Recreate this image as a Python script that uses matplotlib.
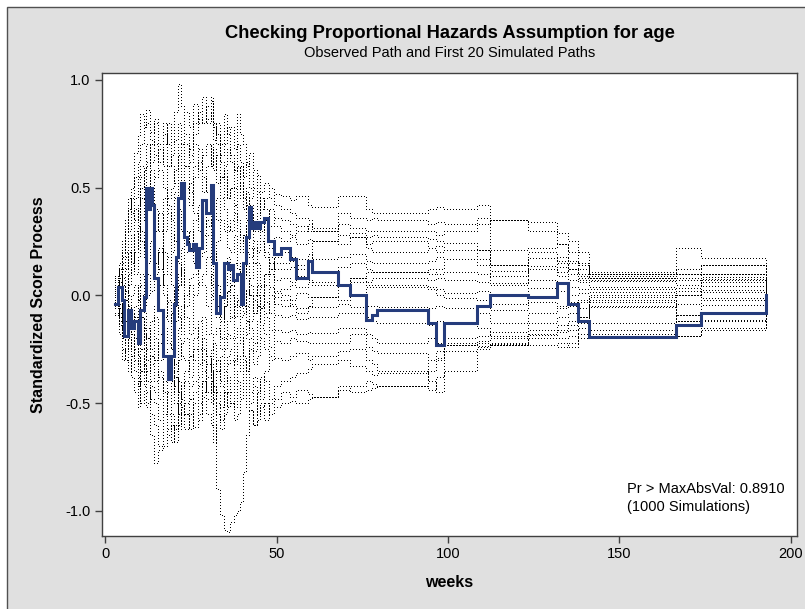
import matplotlib
matplotlib.use("Agg")
import matplotlib.pyplot as plt
from matplotlib.patches import Rectangle

plt.rcParams['font.family'] = ['Liberation Sans', 'DejaVu Sans']

# ---------------- data ----------------
# Observed path (event times in weeks, standardized score process value from that time on)
obs_weeks = [2.9, 3.8, 5.0, 5.5, 6.7, 7.6, 8.5, 9.6, 10.2, 11.4, 12.0, 12.5, 13.1, 13.7,
             14.3, 15.5, 16.9, 18.4, 19.2, 20.1, 20.7, 21.3, 22.2, 23.0, 23.9, 24.5, 25.7,
             26.5, 27.4, 28.3, 29.4, 30.9, 31.5, 32.4, 33.5, 34.7, 35.9, 36.4, 37.3, 38.5,
             39.7, 40.2, 41.1, 42.0, 42.6, 43.4, 44.3, 45.2, 46.4, 47.5, 49.3, 51.3, 53.9,
             55.7, 59.2, 60.3, 67.9, 71.4, 76.1, 77.8, 79.3, 94.2, 96.5, 98.8, 108.5, 112.2,
             123.3, 131.8, 135.0, 137.9, 141.1, 166.5, 173.8, 192.7]
obs_values = [-0.04, 0.04, -0.02, -0.19, -0.07, -0.15, -0.12, -0.22, -0.07, -0.01, 0.50, 0.40,
              0.50, 0.42, 0.08, -0.07, -0.28, -0.39, -0.28, -0.04, 0.18, 0.45, 0.52, 0.27,
              0.24, 0.21, 0.24, 0.13, 0.22, 0.44, 0.38, 0.51, 0.15, -0.08, -0.01, 0.15, 0.12,
              0.14, 0.07, 0.10, -0.04, 0.15, 0.27, 0.41, 0.31, 0.34, 0.31, 0.34, 0.36, 0.25,
              0.19, 0.22, 0.17, 0.08, 0.16, 0.11, 0.05, 0.00, -0.115, -0.09, -0.07, -0.13,
              -0.23, -0.13, -0.05, 0.00, -0.01, 0.055, -0.04, -0.12, -0.195, -0.14, -0.08, 0.00]

# Common jump times for the simulated paths (45 early + 23 late)
sim_weeks = [2.9, 4.0, 5.0, 5.8, 6.7, 7.6, 8.5, 9.6, 10.2, 11.4, 12.0, 13.1, 14.3, 15.5, 16.9,
             18.0, 19.2, 20.1, 21.3, 22.2, 23.0, 24.5, 25.7, 27.0, 28.3, 29.5, 30.9, 31.6, 32.4,
             33.5, 34.7, 35.5, 36.4, 37.5, 38.5, 39.3, 40.2, 41.1, 42.0, 43.2, 44.3, 45.3, 46.4,
             47.8, 49.3,
             51.3, 53.9, 55.7, 59.2, 60.3, 67.9, 71.4, 76.1, 77.8, 79.3, 94.2, 96.5, 98.8,
             108.5, 112.2, 123.3, 131.8, 135.0, 137.9, 141.1, 166.5, 173.8, 192.7]

sim01 = [0.05, -0.02, 0.15, 0.25, 0.30, 0.38, 0.45, 0.55, 0.60, 0.52, 0.70, 0.62, 0.82, 0.70, 0.75, 0.60, 0.65, 0.72, 0.80, 0.70, 0.85, 0.78, 0.89, 0.80, 0.92, 0.82, 0.85, 0.72, 0.80, 0.70, 0.84, 0.75, 0.78, 0.68, 0.84, 0.75, 0.70, 0.60, 0.66, 0.58, 0.56, 0.48, 0.52, 0.45, 0.47,
         0.46, 0.44, 0.46, 0.42, 0.41, 0.46, 0.46, 0.40, 0.38, 0.38, 0.40, 0.41, 0.40, 0.42, 0.35, 0.34, 0.29, 0.25, 0.20, 0.106, 0.22, 0.175, 0.0]
sim02 = [0.08, 0.12, 0.20, 0.30, 0.40, 0.50, 0.66, 0.74, 0.84, 0.78, 0.86, 0.76, 0.80, 0.62, 0.70, 0.80, 0.71, 0.85, 0.98, 0.88, 0.75, 0.65, 0.70, 0.58, 0.65, 0.70, 0.60, 0.68, 0.52, 0.62, 0.55, 0.45, 0.50, 0.58, 0.45, 0.52, 0.40, 0.48, 0.42, 0.34, 0.38, 0.45, 0.40, 0.32, 0.36,
         0.35, 0.33, 0.30, 0.33, 0.31, 0.38, 0.36, 0.35, 0.36, 0.35, 0.33, 0.34, 0.33, 0.36, 0.21, 0.22, 0.24, 0.16, 0.12, 0.10, 0.12, 0.14, 0.0]
sim03 = [-0.02, 0.06, 0.10, 0.18, 0.25, 0.15, 0.40, 0.30, 0.55, 0.45, 0.62, 0.50, 0.55, 0.68, 0.60, 0.45, 0.50, 0.58, 0.65, 0.55, 0.70, 0.62, 0.80, 0.85, 0.92, 0.80, 0.92, 0.78, 0.70, 0.62, 0.60, 0.68, 0.62, 0.50, 0.55, 0.60, 0.50, 0.42, 0.45, 0.50, 0.40, 0.30, 0.35, 0.40, 0.32,
         0.30, 0.28, 0.32, 0.30, 0.30, 0.28, 0.29, 0.27, 0.28, 0.27, 0.26, 0.25, 0.245, 0.21, 0.14, 0.20, 0.18, 0.15, 0.14, 0.09, 0.10, 0.10, 0.0]
sim04 = [0.03, 0.10, -0.05, 0.02, 0.10, 0.20, 0.30, 0.22, 0.45, 0.35, 0.50, 0.58, 0.40, 0.30, 0.45, 0.38, 0.35, 0.45, 0.55, 0.45, 0.60, 0.48, 0.55, 0.62, 0.48, 0.60, 0.70, 0.58, 0.65, 0.55, 0.58, 0.45, 0.50, 0.42, 0.60, 0.50, 0.45, 0.35, 0.38, 0.30, 0.30, 0.36, 0.28, 0.22, 0.27,
         0.25, 0.27, 0.24, 0.26, 0.25, 0.24, 0.27, 0.22, 0.20, 0.20, 0.22, 0.23, 0.21, 0.17, 0.115, 0.175, 0.13, 0.10, 0.09, 0.07, 0.07, 0.085, 0.0]
sim05 = [-0.05, -0.12, 0.05, 0.12, 0.20, 0.28, 0.10, 0.18, 0.30, 0.22, 0.40, 0.48, 0.30, 0.38, 0.20, 0.10, 0.35, 0.25, 0.40, 0.30, 0.45, 0.52, 0.38, 0.30, 0.40, 0.32, 0.50, 0.40, 0.45, 0.55, 0.40, 0.30, 0.35, 0.42, 0.30, 0.20, 0.28, 0.35, 0.22, 0.15, 0.25, 0.30, 0.20, 0.12, 0.18,
         0.20, 0.18, 0.17, 0.19, 0.17, 0.18, 0.19, 0.16, 0.15, 0.15, 0.16, 0.18, 0.17, 0.14, 0.09, 0.134, 0.11, 0.12, 0.08, 0.08, 0.05, 0.07, 0.0]
sim06 = [0.02, -0.04, -0.10, -0.02, 0.05, 0.12, 0.20, 0.32, 0.25, 0.18, 0.10, 0.02, 0.20, 0.12, 0.30, 0.40, 0.20, 0.28, 0.15, 0.05, 0.30, 0.22, 0.35, 0.42, 0.28, 0.35, 0.20, 0.12, 0.25, 0.35, 0.30, 0.22, 0.20, 0.28, 0.15, 0.05, 0.10, 0.20, 0.18, 0.25, 0.15, 0.05, 0.10, 0.18, 0.12,
         0.12, 0.13, 0.12, 0.14, 0.115, 0.13, 0.15, 0.12, 0.11, 0.11, 0.12, 0.10, 0.106, 0.10, 0.056, 0.12, 0.09, 0.07, 0.06, 0.037, 0.035, 0.06, 0.0]
sim07 = [0.06, 0.02, 0.12, 0.20, 0.00, -0.08, -0.10, -0.20, 0.05, -0.05, 0.15, 0.25, 0.10, 0.20, 0.00, -0.12, -0.08, 0.02, 0.10, 0.22, 0.20, 0.30, 0.15, 0.05, 0.05, -0.05, 0.10, 0.20, 0.00, -0.10, -0.05, 0.02, 0.05, 0.15, 0.12, 0.02, 0.08, 0.15, 0.00, -0.08, 0.05, 0.00, 0.10, 0.15, 0.07,
         0.08, 0.06, 0.09, 0.07, 0.06, 0.05, 0.08, 0.06, 0.08, 0.08, 0.07, 0.08, 0.07, 0.06, 0.046, 0.07, 0.06, 0.04, 0.03, 0.03, 0.02, 0.075, 0.0]
sim08 = [-0.03, 0.02, -0.08, -0.15, -0.20, -0.28, -0.10, -0.02, 0.00, -0.08, -0.15, -0.25, -0.05, 0.05, 0.10, 0.18, 0.05, -0.05, -0.10, -0.18, 0.00, 0.08, 0.10, 0.18, 0.20, 0.28, 0.15, 0.05, 0.05, -0.05, 0.10, 0.18, 0.00, -0.10, -0.05, 0.05, 0.03, -0.05, 0.08, 0.15, 0.00, -0.06, 0.05, 0.10, 0.02,
         0.03, 0.05, 0.04, 0.06, 0.05, 0.05, 0.06, 0.05, 0.05, 0.05, 0.04, 0.03, 0.01, 0.02, -0.04, 0.032, 0.02, 0.00, 0.01, 0.014, 0.00, 0.015, 0.0]
sim09 = [0.00, -0.06, 0.05, -0.02, -0.10, -0.18, -0.25, -0.32, -0.15, -0.22, -0.30, -0.40, -0.20, -0.30, -0.10, -0.02, -0.25, -0.35, -0.15, -0.05, -0.05, 0.05, -0.15, -0.25, -0.10, -0.18, 0.00, 0.08, -0.10, -0.20, -0.05, 0.02, 0.05, -0.05, -0.02, -0.10, -0.08, 0.02, 0.00, -0.08, -0.05, 0.04, -0.03, -0.08, 0.01,
         0.00, -0.02, 0.01, -0.01, -0.01, -0.02, 0.00, 0.04, 0.04, 0.04, 0.03, 0.00, -0.014, -0.02, -0.07, -0.03, -0.05, -0.03, -0.02, 0.00, -0.04, 0.025, 0.0]
sim10 = [-0.06, -0.10, -0.15, -0.22, -0.25, -0.18, -0.35, -0.42, -0.25, -0.32, -0.40, -0.48, -0.50, -0.58, -0.40, -0.30, -0.30, -0.38, -0.45, -0.52, -0.35, -0.28, -0.20, -0.12, -0.30, -0.38, -0.25, -0.18, -0.15, -0.25, -0.20, -0.12, -0.10, -0.20, -0.15, -0.05, -0.08, -0.18, -0.12, -0.02, -0.05, -0.14, -0.08, 0.00, -0.04,
         -0.05, -0.04, -0.06, -0.05, -0.055, -0.04, -0.055, -0.05, -0.05, -0.055, -0.06, -0.05, -0.06, -0.08, -0.13, -0.08, -0.06, -0.05, -0.03, -0.01, 0.00, -0.014, 0.0]
sim11 = [0.04, 0.00, -0.05, -0.12, -0.15, -0.22, -0.30, -0.38, -0.40, -0.32, -0.50, -0.42, -0.45, -0.35, -0.55, -0.65, -0.45, -0.38, -0.55, -0.48, -0.62, -0.55, -0.50, -0.58, -0.40, -0.48, -0.30, -0.22, -0.35, -0.42, -0.25, -0.18, -0.20, -0.30, -0.28, -0.35, -0.20, -0.12, -0.15, -0.22, -0.12, -0.05, -0.10, -0.16, -0.09,
         -0.10, -0.09, -0.11, -0.10, -0.10, -0.08, -0.08, -0.10, -0.12, -0.13, -0.14, -0.12, -0.13, -0.15, -0.19, -0.13, -0.10, -0.08, -0.06, -0.02, -0.09, -0.046, 0.0]
sim12 = [-0.08, -0.14, -0.20, -0.26, -0.30, -0.38, -0.45, -0.40, -0.50, -0.44, -0.52, -0.65, -0.78, -0.72, -0.70, -0.62, -0.60, -0.68, -0.50, -0.42, -0.40, -0.48, -0.45, -0.38, -0.35, -0.45, -0.40, -0.32, -0.30, -0.40, -0.35, -0.28, -0.25, -0.32, -0.22, -0.15, -0.28, -0.35, -0.20, -0.26, -0.22, -0.15, -0.18, -0.24, -0.16,
         -0.17, -0.16, -0.18, -0.17, -0.175, -0.15, -0.15, -0.18, -0.20, -0.22, -0.20, -0.22, -0.23, -0.22, -0.23, -0.185, -0.16, -0.14, -0.10, -0.03, -0.12, -0.115, 0.0]
sim13 = [-0.04, -0.08, -0.12, -0.05, -0.20, -0.28, -0.10, -0.18, -0.25, -0.15, -0.35, -0.28, -0.30, -0.38, -0.45, -0.55, -0.68, -0.60, -0.60, -0.52, -0.55, -0.48, -0.61, -0.55, -0.45, -0.38, -0.35, -0.45, -0.45, -0.52, -0.40, -0.32, -0.30, -0.42, -0.35, -0.28, -0.30, -0.38, -0.25, -0.32, -0.28, -0.20, -0.25, -0.30, -0.21,
         -0.22, -0.20, -0.21, -0.22, -0.22, -0.22, -0.18, -0.24, -0.26, -0.27, -0.30, -0.29, -0.26, -0.24, -0.23, -0.23, -0.24, -0.22, -0.18, -0.05, -0.19, -0.15, 0.0]
sim14 = [0.01, 0.06, 0.08, 0.02, -0.05, -0.12, -0.20, -0.28, -0.35, -0.42, -0.25, -0.32, -0.40, -0.48, -0.55, -0.45, -0.40, -0.50, -0.62, -0.55, -0.50, -0.42, -0.40, -0.50, -0.47, -0.55, -0.60, -0.68, -0.50, -0.58, -0.55, -0.45, -0.45, -0.52, -0.40, -0.48, -0.35, -0.42, -0.45, -0.38, -0.40, -0.48, -0.35, -0.28, -0.29,
         -0.30, -0.28, -0.27, -0.30, -0.28, -0.26, -0.25, -0.30, -0.32, -0.35, -0.40, -0.45, -0.35, -0.25, -0.22, -0.20, -0.20, -0.19, -0.15, -0.055, -0.04, -0.02, 0.0]
sim15 = [-0.02, -0.10, -0.25, -0.30, -0.35, -0.28, -0.20, -0.12, -0.10, -0.18, -0.20, -0.28, -0.30, -0.22, -0.15, -0.22, -0.25, -0.32, -0.20, -0.28, -0.30, -0.38, -0.25, -0.32, -0.20, -0.28, -0.35, -0.60, -0.90, -1.02, -1.09, -1.10, -1.05, -1.02, -1.00, -0.96, -0.82, -0.65, -0.53, -0.60, -0.58, -0.52, -0.50, -0.55, -0.48,
         -0.45, -0.47, -0.44, -0.46, -0.47, -0.42, -0.45, -0.44, -0.43, -0.42, -0.44, -0.38, -0.22, -0.21, -0.20, -0.18, -0.17, -0.16, -0.13, -0.13, -0.09, -0.12, 0.0]
sim16 = [0.00, -0.05, -0.10, -0.18, -0.30, -0.38, -0.45, -0.52, -0.35, -0.28, -0.45, -0.55, -0.60, -0.70, -0.45, -0.38, -0.55, -0.62, -0.40, -0.48, -0.55, -0.62, -0.50, -0.42, -0.40, -0.32, -0.50, -0.42, -0.55, -0.62, -0.45, -0.38, -0.50, -0.58, -0.55, -0.48, -0.45, -0.52, -0.50, -0.42, -0.55, -0.50, -0.58, -0.50, -0.52,
         -0.50, -0.49, -0.50, -0.48, -0.47, -0.44, -0.42, -0.40, -0.41, -0.42, -0.35, -0.30, -0.23, -0.235, -0.225, -0.23, -0.22, -0.24, -0.20, -0.16, -0.12, -0.16, 0.0]
sim17 = [0.07, 0.12, 0.00, -0.06, -0.10, 0.00, 0.05, -0.02, -0.10, -0.18, -0.20, -0.12, -0.10, -0.18, -0.25, -0.32, -0.35, -0.42, -0.30, -0.22, -0.20, -0.28, -0.30, -0.38, -0.25, -0.32, -0.40, -0.48, -0.35, -0.28, -0.45, -0.52, -0.50, -0.42, -0.40, -0.48, -0.45, -0.38, -0.53, -0.60, -0.45, -0.38, -0.40, -0.48, -0.42,
         -0.40, -0.38, -0.36, -0.34, -0.32, -0.30, -0.33, -0.35, -0.37, -0.36, -0.30, -0.26, -0.20, -0.19, -0.17, -0.16, -0.14, -0.12, -0.10, -0.18, -0.19, -0.16, 0.0]
sim18 = [-0.01, 0.08, 0.18, 0.28, 0.35, 0.45, 0.55, 0.62, 0.70, 0.78, 0.80, 0.72, 0.70, 0.62, 0.80, 0.70, 0.60, 0.52, 0.70, 0.62, 0.60, 0.68, 0.75, 0.82, 0.80, 0.88, 0.90, 0.80, 0.75, 0.65, 0.70, 0.78, 0.65, 0.58, 0.70, 0.62, 0.55, 0.62, 0.50, 0.58, 0.48, 0.40, 0.45, 0.50, 0.42,
         0.40, 0.38, 0.36, 0.35, 0.30, 0.33, 0.31, 0.30, 0.30, 0.30, 0.30, 0.28, 0.30, 0.33, 0.35, 0.30, 0.24, 0.20, 0.15, 0.10, 0.10, 0.14, 0.0]
sim19 = [0.09, 0.15, 0.25, 0.35, 0.45, 0.38, 0.35, 0.42, 0.50, 0.58, 0.60, 0.70, 0.65, 0.58, 0.50, 0.42, 0.40, 0.48, 0.55, 0.62, 0.50, 0.42, 0.60, 0.68, 0.55, 0.48, 0.45, 0.38, 0.35, 0.45, 0.40, 0.32, 0.30, 0.38, 0.35, 0.28, 0.25, 0.32, 0.30, 0.22, 0.20, 0.25, 0.18, 0.12, 0.15,
         0.15, 0.16, 0.14, 0.16, 0.25, 0.28, 0.27, 0.24, 0.25, 0.25, 0.22, 0.20, 0.21, 0.14, 0.09, 0.20, 0.16, 0.12, 0.10, 0.08, 0.08, 0.10, 0.0]
sim20 = [-0.09, -0.18, -0.30, -0.25, -0.20, -0.12, -0.05, 0.04, 0.10, 0.02, 0.00, 0.08, 0.15, 0.22, 0.05, -0.03, -0.05, -0.12, 0.05, 0.12, -0.10, -0.18, 0.00, 0.06, 0.10, 0.18, 0.05, -0.02, -0.05, -0.12, 0.05, 0.12, -0.10, -0.04, 0.00, 0.06, -0.05, -0.12, 0.05, 0.00, 0.00, -0.06, -0.03, 0.04, -0.01,
         -0.02, -0.05, -0.08, -0.05, -0.01, 0.05, 0.08, 0.11, 0.11, 0.11, 0.10, 0.12, 0.17, 0.21, 0.14, 0.175, 0.15, 0.10, 0.07, 0.065, 0.05, 0.045, 0.0]

sim_paths = [sim01, sim02, sim03, sim04, sim05, sim06, sim07, sim08, sim09, sim10,
             sim11, sim12, sim13, sim14, sim15, sim16, sim17, sim18, sim19, sim20]

x_ticks = [0, 50, 100, 150, 200]
y_ticks = [-1.0, -0.5, 0.0, 0.5, 1.0]

# ---------------- figure ----------------
W, H = 805, 609
fig = plt.figure(figsize=(W / 100, H / 100), dpi=100, facecolor='white')
bg = Rectangle((7 / W, -0.01), 1.0, 1 - 7 / H + 0.01, transform=fig.transFigure,
               facecolor='#E0E0E0', edgecolor='#505050', linewidth=1.0, zorder=-10)
fig.patches.append(bg)

ax = fig.add_axes([101.7 / W, (H - 536) / H, 695 / W, 463.3 / H])
ax.set_zorder(1)
ax.set_facecolor('white')

for p in sim_paths:
    ax.plot(sim_weeks, p, drawstyle='steps-post', color='black', linewidth=0.75,
            linestyle=(0, (0.9, 2.5)), antialiased=False, zorder=2)

ax.plot(obs_weeks, obs_values, drawstyle='steps-post', color='#253C7C', linewidth=2.2,
        zorder=3, solid_joinstyle='miter')

ax.set_xlim(-1.0, 201.7)
ax.set_ylim(-1.117, 1.033)
ax.set_xticks(x_ticks)
ax.set_xticklabels([str(v) for v in x_ticks])
ax.set_yticks(y_ticks)
ax.set_yticklabels([f"{v:.1f}" for v in y_ticks])
ax.tick_params(axis='both', direction='out', length=5, width=1, color='#404040',
               labelsize=10.5, labelcolor='black', pad=3)
for s in ax.spines.values():
    s.set_color('#404040')
    s.set_linewidth(1.0)

ax.set_xlabel('weeks', fontsize=11.5, fontweight='bold', labelpad=10)
ax.set_ylabel('Standardized Score Process', fontsize=11.5, fontweight='bold', labelpad=14)

fig.text(450 / W, 1 - 33 / H, 'Checking Proportional Hazards Assumption for age',
         ha='center', va='center', fontsize=13.2, fontweight='bold')
fig.text(450 / W, 1 - 53 / H, 'Observed Path and First 20 Simulated Paths',
         ha='center', va='center', fontsize=10.5)

ax.text(0.756, 0.082, 'Pr > MaxAbsVal: 0.8910\n(1000 Simulations)', transform=ax.transAxes,
        ha='left', va='center', fontsize=10.5, linespacing=1.45)

fig.savefig('out.png', dpi=100, facecolor=fig.get_facecolor())
